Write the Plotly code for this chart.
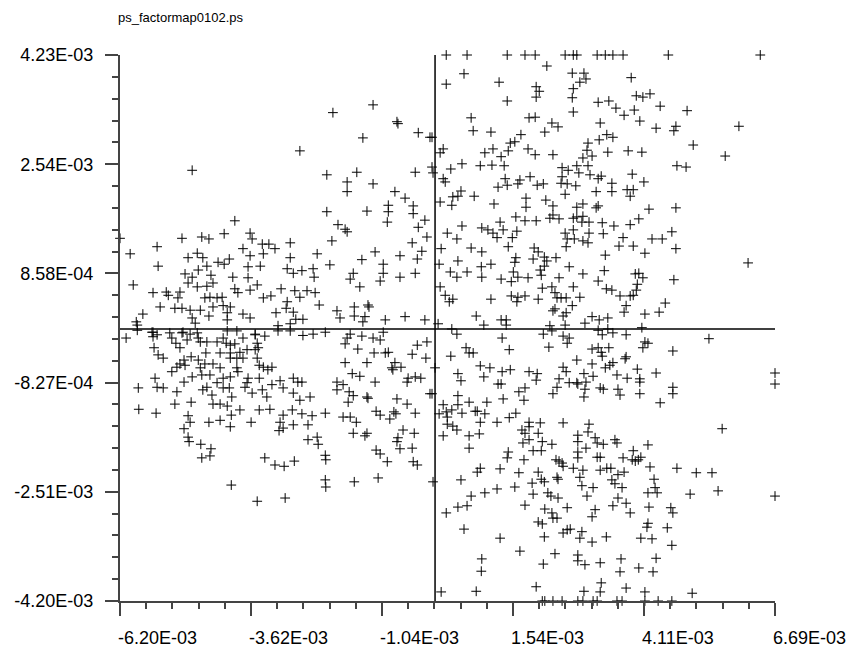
import plotly.graph_objects as go

# factor map coordinates, in units of 1E-03 (dimension 1, dimension 2)
upper_left = [
    (-6.20, 1.40), (-6.00, 1.16), (-5.94, 0.68), (-5.47, 1.27), (-5.45, 0.97), (-4.98, 1.40),
    (-4.78, 2.45), (-4.59, 1.42), (-4.45, 1.39), (-4.15, 1.47), (-3.94, 1.67), (-3.64, 1.48),
    (-3.60, 1.39), (-3.40, 1.31), (-3.27, 1.31), (-3.15, 1.24), (-2.85, 1.33), (-2.66, 2.75),
    (-2.01, 3.34), (-1.42, 2.95), (-1.22, 3.46), (-0.75, 3.20), (-0.73, 3.17), (-0.33, 3.03),
    (-0.10, 2.96), (-2.13, 2.38), (-1.73, 2.27), (-1.73, 2.12), (-1.54, 2.42), (-1.22, 2.24),
    (-0.79, 2.12), (-0.59, 2.02), (-0.39, 2.42), (-0.06, 2.50), (-0.04, 2.41), (-2.13, 1.81),
    (-1.34, 1.82), (-0.92, 1.91), (-0.92, 1.81), (-0.94, 1.65), (-0.43, 1.90), (-0.43, 1.78),
    (-0.20, 1.68), (-0.33, 1.57), (-1.91, 1.61), (-1.77, 1.54), (-1.73, 1.50), (-2.03, 1.36),
    (-0.16, 1.42), (-0.45, 1.33), (-0.26, 1.20), (-1.18, 1.19), (-0.69, 1.13), (-0.35, 1.08),
    (-1.44, 1.07), (-1.02, 1.00), (-1.02, 0.86), (-0.39, 0.86), (-0.69, 0.80), (-1.08, 0.74),
    (-1.61, 0.86), (-1.67, 0.77), (-1.48, 0.65), (-2.07, 0.99), (-2.32, 1.16), (-2.85, 1.10),
    (-2.91, 0.93), (-2.79, 0.86), (-2.62, 0.90), (-2.40, 0.93), (-2.38, 0.80), (-2.76, 0.59),
    (-2.52, 0.59), (-2.36, 0.56), (-2.66, 0.49), (-3.03, 0.62), (-3.23, 0.51), (-3.38, 0.48),
    (-3.50, 0.68), (-3.68, 0.79), (-3.68, 0.96), (-3.44, 0.97), (-3.38, 1.16), (-3.64, 1.13),
    (-3.78, 1.24), (-4.05, 1.08), (-4.15, 1.00), (-4.27, 1.03), (-3.98, 0.80), (-3.94, 0.62),
    (-3.88, 0.56), (-3.64, 0.60), (-4.41, 0.83), (-4.37, 0.71), (-4.49, 0.97), (-4.68, 1.17),
    (-4.57, 1.10), (-4.86, 1.10), (-4.92, 0.85), (-4.78, 0.80), (-4.66, 0.91), (-4.86, 0.71),
    (-4.68, 0.65), (-4.49, 0.66), (-5.02, 0.57), (-5.29, 0.57), (-5.55, 0.56), (-5.25, 0.52),
    (-5.06, 0.48), (-5.41, 0.34), (-5.12, 0.32), (-4.98, 0.32), (-4.82, 0.29), (-4.62, 0.29),
    (-4.53, 0.48), (-4.43, 0.49), (-4.29, 0.48), (-4.19, 0.49), (-4.37, 0.34), (-4.17, 0.36),
    (-4.03, 0.34), (-4.09, 0.25), (-4.45, 0.20), (-4.78, 0.17), (-4.09, 0.14), (-3.78, 0.23),
    (-3.64, 0.17), (-3.13, 0.25), (-2.93, 0.32), (-2.91, 0.42), (-2.79, 0.26), (-2.74, 0.15),
    (-2.60, 0.15), (-2.28, 0.37), (-1.93, 0.28), (-1.87, 0.17), (-1.59, 0.34), (-1.59, 0.20),
    (-1.38, 0.19), (-1.42, 0.11), (-1.32, 0.37), (-0.98, 0.14), (-0.59, 0.19), (-0.20, 0.14),
    (-1.30, 0.34), (-5.75, 0.23), (-5.88, 0.11), (-5.86, 0.06), (-4.72, 0.09), (-3.09, 0.05),
    (-2.85, 0.08),
]

upper_right = [
    (0.22, 4.23), (0.63, 4.23), (1.42, 4.23), (1.77, 4.23), (1.97, 4.23), (2.56, 4.23),
    (2.72, 4.23), (2.79, 4.23), (3.19, 4.23), (3.35, 4.23), (3.50, 4.23), (3.70, 4.23),
    (4.59, 4.23), (6.40, 4.23),
    (2.20, 4.06), (0.57, 3.94), (0.22, 3.78), (1.26, 3.81), (2.70, 3.95), (2.93, 3.95),
    (2.85, 3.81), (2.97, 3.86), (3.86, 3.88), (1.99, 3.74), (2.05, 3.67), (1.99, 3.58),
    (2.72, 3.71), (2.70, 3.57), (1.42, 3.52), (3.21, 3.50), (3.42, 3.52), (3.96, 3.60),
    (4.09, 3.58), (4.23, 3.63), (3.56, 3.41), (3.92, 3.38), (3.72, 3.30), (4.43, 3.44),
    (4.96, 3.37), (2.72, 3.35), (0.71, 3.26), (1.85, 3.26), (1.97, 3.27), (0.75, 3.06),
    (1.10, 3.04), (2.30, 3.18), (2.42, 3.12), (2.16, 3.04), (3.25, 3.18), (4.03, 3.21),
    (4.35, 3.10), (4.74, 3.13), (4.70, 3.06), (5.98, 3.13), (1.69, 3.00), (1.57, 2.89),
    (1.48, 2.87), (-0.06, 2.96), (0.16, 2.78), (0.10, 2.72), (0.98, 2.72), (1.14, 2.78),
    (1.44, 2.75), (1.83, 2.78), (1.97, 2.69), (2.32, 2.69), (1.30, 2.66), (3.01, 2.87),
    (2.99, 2.76), (2.91, 2.64), (3.09, 2.67), (3.23, 2.92), (3.38, 3.00), (3.50, 2.96),
    (3.40, 2.73), (3.80, 2.75), (4.07, 2.73), (5.08, 2.84), (5.71, 2.67), (0.31, 2.47),
    (0.53, 2.55), (0.89, 2.52), (1.12, 2.53), (1.36, 2.52), (2.50, 2.49), (2.62, 2.45),
    (2.79, 2.52), (3.01, 2.52), (2.83, 2.41), (3.05, 2.38), (3.27, 2.36), (2.50, 2.35),
    (4.76, 2.52), (4.94, 2.50), (0.16, 2.32), (0.20, 2.27), (1.38, 2.32), (1.87, 2.35),
    (1.67, 2.30), (1.63, 2.24), (1.42, 2.22), (1.24, 2.19), (2.01, 2.22), (2.13, 2.24),
    (2.48, 2.25), (2.60, 2.24), (2.77, 2.21), (3.21, 2.32), (3.48, 2.25), (3.88, 2.39),
    (4.11, 2.27), (0.51, 2.13), (0.45, 2.05), (0.35, 2.04), (0.77, 2.05), (0.10, 1.96),
    (0.33, 1.91), (1.16, 1.93), (1.79, 2.02), (1.79, 1.88), (2.18, 1.99), (2.32, 1.90),
    (2.56, 2.08), (2.79, 1.88), (2.91, 1.93), (3.17, 2.12), (3.21, 1.90), (3.17, 1.87),
    (3.48, 2.12), (3.78, 2.15), (3.90, 2.15), (3.84, 2.05), (4.21, 1.85), (4.74, 1.87),
    (1.59, 1.73), (1.77, 1.67), (1.99, 1.67), (2.26, 1.71), (2.32, 1.76), (2.44, 1.70),
    (2.72, 1.71), (2.79, 1.73), (2.91, 1.74), (2.89, 1.65), (3.03, 1.65), (3.29, 1.64),
    (3.52, 1.59), (3.84, 1.61), (4.01, 1.70), (1.28, 1.65), (0.53, 1.59), (0.24, 1.48),
    (0.43, 1.39), (0.92, 1.56), (1.04, 1.53), (1.14, 1.48), (1.22, 1.41), (1.34, 1.53),
    (1.52, 1.41), (1.61, 1.51), (2.56, 1.48), (2.72, 1.53), (2.60, 1.39), (2.74, 1.39),
    (2.58, 1.27), (2.91, 1.36), (3.03, 1.48), (3.01, 1.33), (3.31, 1.47), (3.70, 1.41),
    (3.62, 1.28), (3.90, 1.28), (4.27, 1.39), (4.47, 1.39), (4.66, 1.50), (4.74, 1.24),
    (4.13, 1.17), (3.35, 1.14), (0.12, 1.24), (0.71, 1.25), (0.92, 1.19), (1.44, 1.27),
    (1.95, 1.25), (2.03, 1.19), (1.59, 1.10), (1.57, 1.03), (1.93, 1.08), (2.15, 1.11),
    (2.20, 1.05), (2.38, 1.10), (2.15, 0.97), (2.07, 0.91), (2.09, 0.83), (2.64, 0.96),
    (0.45, 1.05), (0.08, 1.00), (0.91, 0.96), (1.10, 1.00), (0.30, 0.88), (0.63, 0.88),
    (0.43, 0.80), (0.92, 0.80), (1.30, 0.77), (1.50, 0.73), (1.54, 0.88), (1.63, 0.80),
    (1.83, 0.79), (2.44, 0.79), (2.91, 0.85), (3.33, 0.90), (3.21, 0.74), (3.94, 0.85),
    (4.01, 0.86), (4.09, 0.79), (3.98, 0.69), (3.96, 0.60), (3.84, 0.51), (3.64, 0.51),
    (3.90, 0.52), (3.48, 0.60), (3.37, 0.62), (4.70, 0.76), (6.16, 1.02), (0.10, 0.65),
    (0.20, 0.52), (0.28, 0.42), (0.35, 0.46), (1.10, 0.46), (1.50, 0.51), (1.61, 0.42),
    (1.63, 0.49), (1.77, 0.51), (2.03, 0.46), (2.11, 0.63), (2.30, 0.65), (2.36, 0.56),
    (2.40, 0.48), (2.48, 0.48), (2.58, 0.48), (2.72, 0.65), (2.85, 0.49), (2.70, 0.36),
    (2.32, 0.28), (2.36, 0.31), (2.52, 0.20), (2.58, 0.25), (0.81, 0.20), (1.30, 0.14),
    (1.40, 0.14), (0.96, 0.06), (1.40, 0.06), (0.06, 0.08), (2.26, 0.05), (2.56, 0.06),
    (2.95, 0.09), (3.09, 0.19), (3.23, 0.14), (3.40, 0.17), (3.76, 0.36), (3.72, 0.26),
    (4.13, 0.23), (4.41, 0.26), (4.53, 0.40),
]

lower_left = [
    (-6.08, -0.14), (-5.55, -0.05), (-5.55, -0.12), (-5.47, -0.09), (-5.53, -0.29), (-5.45, -0.40),
    (-5.35, -0.45), (-5.18, -0.14), (-5.10, -0.22), (-5.02, -0.29), (-4.96, -0.05), (-4.88, -0.17),
    (-4.66, -0.14), (-4.62, -0.20), (-4.49, -0.20), (-4.29, -0.20), (-4.17, -0.14), (-4.11, -0.22),
    (-4.03, -0.25), (-3.94, -0.23), (-3.78, -0.14), (-3.54, -0.09), (-3.50, -0.22), (-3.35, -0.11),
    (-3.54, -0.32), (-3.48, -0.29), (-3.70, -0.32), (-3.84, -0.36), (-4.03, -0.37), (-4.23, -0.37),
    (-4.51, -0.37), (-4.80, -0.43), (-4.94, -0.48), (-5.02, -0.54), (-5.08, -0.59), (-5.18, -0.66),
    (-4.92, -0.56), (-4.66, -0.48), (-4.53, -0.54), (-4.62, -0.60), (-4.37, -0.54), (-4.23, -0.60),
    (-4.03, -0.45), (-3.90, -0.45), (-3.78, -0.45), (-3.50, -0.45), (-3.46, -0.56), (-3.38, -0.59),
    (-3.29, -0.63), (-3.21, -0.59), (-3.90, -0.60), (-3.88, -0.66), (-4.78, -0.74), (-4.59, -0.71),
    (-4.43, -0.71), (-4.17, -0.76), (-4.03, -0.74), (-3.68, -0.76), (-3.46, -0.76), (-5.51, -0.76),
    (-5.47, -0.90), (-5.35, -0.91), (-5.84, -0.91), (-5.83, -1.24), (-5.49, -1.30), (-5.12, -1.16),
    (-5.08, -0.97), (-4.94, -0.82), (-4.80, -1.13), (-4.57, -0.94), (-4.49, -0.90), (-4.39, -1.02),
    (-4.37, -1.16), (-4.23, -1.16), (-4.29, -0.83), (-4.17, -0.91), (-4.05, -0.91), (-4.00, -1.05),
    (-4.09, -1.19), (-3.84, -1.25), (-4.01, -1.33), (-3.74, -0.90), (-3.70, -0.83), (-3.60, -0.99),
    (-3.40, -0.94), (-3.31, -1.05), (-3.21, -0.86), (-3.05, -0.80), (-2.99, -0.91), (-2.79, -0.76),
    (-2.70, -0.82), (-2.62, -0.82), (-2.79, -0.99), (-2.66, -1.10), (-2.46, -1.05), (-3.25, -1.24),
    (-3.46, -1.25), (-2.99, -1.33), (-2.81, -1.25), (-2.62, -1.31), (-2.42, -1.34), (-3.05, -1.44),
    (-2.99, -1.53), (-2.79, -1.48), (-2.50, -1.48), (-3.07, -1.57), (-4.86, -1.34), (-4.82, -1.44),
    (-4.45, -1.44), (-4.23, -1.41), (-4.03, -1.51), (-3.62, -1.44), (-4.94, -1.54), (-4.86, -1.67),
    (-4.84, -1.74), (-4.61, -1.78), (-4.41, -1.85), (-4.43, -1.96), (-4.59, -1.99), (-2.50, -1.71),
    (-2.32, -1.67), (-2.30, -1.78), (-2.16, -1.30), (-2.16, -1.95), (-2.15, -2.02), (-3.35, -1.99),
    (-3.15, -2.10), (-2.97, -2.12), (-2.77, -2.04), (-2.16, -2.33), (-2.15, -2.44), (-4.01, -2.41),
    (-3.50, -2.66), (-2.95, -2.61), (-1.59, -2.36), (-1.12, -2.30), (-0.04, -2.36), (-1.93, -0.82),
    (-1.93, -0.94), (-1.81, -0.86), (-1.77, -0.52), (-1.69, -0.97), (-1.61, -1.03), (-1.71, -1.13),
    (-1.63, -0.69), (-1.48, -0.73), (-1.77, -0.23), (-1.73, -0.14), (-1.67, -0.08), (-1.44, -0.11),
    (-1.52, -0.31), (-1.22, -0.14), (-1.08, -0.17), (-1.34, -0.52), (-1.18, -0.82), (-1.20, -0.37),
    (-0.98, -0.37), (-0.92, -0.36), (-1.34, -1.05), (-1.32, -1.07), (-0.85, -0.60), (-0.79, -0.52),
    (-0.67, -0.59), (-0.83, -0.63), (-0.53, -0.76), (-0.39, -0.74), (-0.28, -0.76), (-0.55, -0.82),
    (-0.75, -1.08), (-0.55, -1.16), (-0.45, -0.39), (-0.35, -0.25), (-0.16, -0.20), (-0.18, -0.45),
    (0.00, -0.60), (-0.10, -1.00), (-1.16, -1.27), (-1.08, -1.33), (-1.81, -1.36), (-1.67, -1.36),
    (-1.55, -1.44), (-1.61, -1.61), (-1.34, -1.61), (-1.38, -1.65), (-0.89, -1.39), (-0.81, -1.28),
    (-0.77, -1.31), (-0.39, -1.30), (-0.63, -1.56), (-0.41, -1.61), (-0.73, -1.68), (-0.75, -1.74),
    (-0.69, -1.85), (-0.45, -1.84), (-1.16, -1.87), (-1.08, -1.93), (-0.94, -2.05), (-0.43, -2.05),
    (-0.35, -2.10), (-5.86, -0.02), (-5.57, -0.05), (-5.22, -0.06), (-4.98, -0.06), (-4.82, -0.08),
    (-4.68, -0.06), (-4.09, -0.03), (-3.90, -0.03), (-3.54, -0.08), (-3.09, -0.03), (-2.85, -0.03),
    (-2.60, -0.10), (-2.40, -0.08), (-2.16, -0.05), (-1.02, -0.05),
]

lower_right = [
    (0.33, 0.00), (0.43, -0.08), (1.32, -0.14), (2.13, -0.08), (2.24, -0.28), (2.30, -0.03),
    (2.52, -0.11), (2.64, -0.14), (2.60, -0.22), (3.21, -0.02), (3.29, -0.09), (3.40, 0.00),
    (3.50, -0.06), (3.76, -0.09), (4.07, 0.02), (4.13, -0.20), (4.19, -0.22), (4.09, -0.29),
    (5.39, -0.15), (4.68, -0.34), (0.61, -0.29), (0.67, -0.37), (0.75, -0.37), (0.31, -0.42),
    (1.46, -0.32), (3.09, -0.31), (3.21, -0.29), (3.27, -0.36), (3.42, -0.29), (3.29, -0.42),
    (2.79, -0.48), (3.76, -0.43), (3.74, -0.46), (0.89, -0.57), (1.08, -0.60), (1.32, -0.66),
    (1.48, -0.63), (1.85, -0.66), (2.01, -0.69), (1.99, -0.79), (2.52, -0.59), (2.58, -0.66),
    (3.09, -0.54), (3.35, -0.60), (3.44, -0.56), (3.50, -0.52), (2.93, -0.69), (3.11, -0.73),
    (3.98, -0.62), (4.35, -0.68), (3.58, -0.71), (3.78, -0.76), (4.03, -0.77), (4.03, -0.82),
    (0.45, -0.69), (0.51, -0.80), (0.96, -0.74), (1.24, -0.85), (1.30, -0.85), (1.77, -0.91),
    (1.65, -0.97), (2.44, -0.77), (2.40, -0.90), (2.64, -0.83), (2.79, -0.83), (2.81, -0.85),
    (2.97, -0.82), (2.95, -0.93), (2.93, -1.05), (3.25, -0.91), (3.31, -0.93), (3.60, -0.93),
    (3.64, -1.02), (2.32, -1.00), (4.03, -1.00), (4.68, -0.90), (4.68, -1.00), (4.43, -1.14),
    (6.69, -0.68), (6.69, -0.85), (-0.06, -1.00), (0.45, -1.03), (0.16, -1.17), (0.08, -1.31),
    (0.22, -1.28), (0.24, -1.36), (0.33, -1.25), (0.45, -1.17), (0.53, -1.30), (0.67, -1.13),
    (0.79, -1.27), (0.83, -1.27), (0.98, -1.31), (1.02, -1.13), (1.34, -1.08), (1.75, -1.10),
    (1.46, -1.37), (1.59, -1.30), (1.22, -1.44), (0.89, -1.44), (0.24, -1.47), (0.35, -1.50),
    (0.43, -1.56), (0.16, -1.65), (0.67, -1.65), (0.87, -1.62), (0.67, -1.84), (1.71, -1.56),
    (1.77, -1.61), (1.85, -1.44), (1.85, -1.51), (1.85, -1.71), (1.73, -1.76), (2.03, -1.61),
    (2.07, -1.45), (2.11, -1.74), (2.30, -1.78), (2.52, -1.45), (1.93, -1.88), (2.09, -1.88),
    (1.44, -1.90), (1.42, -1.99), (1.75, -2.02), (3.03, -1.47), (3.01, -1.59), (2.81, -1.64),
    (2.81, -1.74), (2.97, -1.84), (3.15, -1.68), (3.19, -1.76), (3.31, -1.78), (3.54, -1.71),
    (3.58, -1.76), (2.81, -1.90), (2.81, -1.99), (2.38, -2.02), (2.44, -2.04), (2.50, -2.07),
    (2.52, -2.12), (2.72, -2.15), (2.91, -2.18), (3.19, -1.98), (3.25, -1.98), (3.25, -2.18),
    (3.38, -2.15), (3.46, -2.15), (3.70, -1.99), (3.90, -1.88), (3.88, -2.02), (3.94, -2.04),
    (4.00, -2.02), (4.05, -1.98), (4.19, -1.79), (4.23, -2.13), (3.72, -2.21), (3.60, -2.25),
    (3.48, -2.33), (3.54, -2.39), (3.68, -2.45), (3.60, -2.61), (3.76, -2.69), (3.84, -2.84),
    (3.50, -2.73), (3.11, -2.45), (2.89, -2.42), (2.85, -2.29), (2.99, -2.58), (2.40, -2.29),
    (2.42, -2.32), (2.15, -2.36), (2.03, -2.21), (2.09, -2.32), (1.91, -2.38), (1.57, -2.44),
    (1.65, -2.22), (1.28, -2.16), (0.89, -2.15), (0.83, -2.21), (0.51, -2.33), (0.98, -2.53),
    (1.22, -2.47), (0.71, -2.58), (0.45, -2.75), (0.63, -2.73), (0.22, -2.84), (0.57, -3.09),
    (1.28, -3.23), (1.67, -3.43), (0.92, -3.55), (0.91, -3.74), (0.12, -4.06), (0.81, -4.05),
    (1.77, -2.72), (1.93, -2.55), (2.22, -2.53), (2.28, -2.58), (2.42, -2.61), (2.16, -2.78),
    (2.30, -2.84), (2.32, -2.92), (2.40, -2.92), (2.60, -2.76), (2.03, -2.98), (2.11, -3.01),
    (2.15, -3.21), (2.52, -3.15), (2.60, -3.10), (2.66, -3.09), (2.89, -3.13), (2.85, -3.23),
    (3.09, -3.29), (3.15, -2.79), (3.09, -2.90), (3.37, -3.21), (2.36, -3.47), (2.81, -3.49),
    (2.81, -3.58), (2.95, -3.64), (3.25, -3.61), (2.13, -3.63), (1.99, -3.98), (2.93, -4.05),
    (3.25, -4.06), (3.27, -3.92), (3.66, -3.55), (3.64, -3.75), (3.76, -4.00), (4.01, -3.69),
    (4.05, -3.23), (4.17, -3.06), (4.19, -3.00), (4.27, -3.24), (4.29, -3.75), (4.35, -3.54),
    (4.13, -4.06), (4.21, -2.75), (4.19, -2.53), (4.37, -2.53), (4.33, -2.45), (4.31, -2.32),
    (4.64, -2.76), (4.68, -2.84), (4.57, -3.07), (4.66, -3.34), (4.76, -2.15), (5.02, -2.55),
    (5.14, -2.22), (5.45, -2.22), (5.57, -2.50), (5.65, -1.54), (5.06, -4.08), (6.69, -2.58),
    (2.11, -4.20), (2.16, -4.20), (2.32, -4.20), (2.50, -4.20), (2.81, -4.20), (2.91, -4.20),
    (3.11, -4.20), (3.19, -4.20), (3.58, -4.20), (3.68, -4.20), (4.13, -4.20), (4.39, -4.20),
    (4.66, -4.20),
]

x_ticks = [-6.20, -3.62, -1.04, 1.54, 4.11, 6.69]
x_labels = ["-6.20E-03", "-3.62E-03", "-1.04E-03", "1.54E-03", "4.11E-03", "6.69E-03"]
y_ticks = [4.23, 2.54, 0.858, -0.827, -2.51, -4.20]
y_labels = ["4.23E-03", "2.54E-03", "8.58E-04", "-8.27E-04", "-2.51E-03", "-4.20E-03"]

scale = 1e-3
points = upper_left + upper_right + lower_left + lower_right
dim1 = [p[0] * scale for p in points]
dim2 = [p[1] * scale for p in points]

fig = go.Figure()
fig.add_trace(go.Scatter(
    x=dim1, y=dim2, mode="markers", cliponaxis=False,
    marker=dict(symbol="cross-thin", size=7, line=dict(width=1, color="black")),
    hoverinfo="skip",
))

# axes through the origin
fig.add_shape(type="line", xref="x", yref="paper", x0=0, x1=0, y0=0, y1=1,
              line=dict(color="black", width=1.5))
fig.add_shape(type="line", xref="paper", yref="y", x0=0, x1=1, y0=0, y1=0,
              line=dict(color="black", width=1.5))

x_step = (x_ticks[-1] - x_ticks[0]) / 5 * scale
y_step = (y_ticks[0] - y_ticks[-1]) / 5 * scale

fig.update_xaxes(
    range=[x_ticks[0] * scale, x_ticks[-1] * scale], automargin=False,
    tickmode="array", tickvals=[v * scale for v in x_ticks], showticklabels=False,
    ticks="outside", ticklen=13, tickwidth=1.5, tickcolor="#444",
    minor=dict(ticks="outside", ticklen=6, tickwidth=1.5, tickcolor="#444",
               tickmode="linear", tick0=x_ticks[0] * scale, dtick=x_step / 5),
    showline=True, linecolor="#444", linewidth=2, showgrid=False, zeroline=False,
)
fig.update_yaxes(
    range=[y_ticks[-1] * scale, y_ticks[0] * scale], automargin=False,
    tickmode="array", tickvals=[v * scale for v in y_ticks], ticktext=y_labels,
    ticks="outside", ticklen=13, tickwidth=1.5, tickcolor="#444", ticklabelstandoff=8,
    minor=dict(ticks="outside", ticklen=6, tickwidth=1.5, tickcolor="#444",
               tickmode="linear", tick0=y_ticks[-1] * scale, dtick=y_step / 5),
    showline=True, linecolor="#444", linewidth=2, showgrid=False, zeroline=False,
    tickfont=dict(size=18, color="black"),
)

for v, lab in zip(x_ticks, x_labels):
    fig.add_annotation(x=v * scale, y=0, xref="x", yref="paper", text=lab, showarrow=False,
                       xanchor="left", yanchor="top", yshift=-25, xshift=-4,
                       font=dict(size=18, color="black"))

fig.add_annotation(x=0, y=1, xref="paper", yref="paper", text="ps_factormap0102.ps",
                   showarrow=False, xanchor="left", yanchor="bottom", yshift=28, xshift=-4,
                   font=dict(size=13, color="black"))

fig.update_layout(
    width=864, height=655, margin=dict(l=112, r=97, t=47, b=62),
    plot_bgcolor="white", paper_bgcolor="white", showlegend=False,
    font=dict(family="Liberation Sans, Arial, sans-serif", color="black"),
)

fig.write_html("out.html")
